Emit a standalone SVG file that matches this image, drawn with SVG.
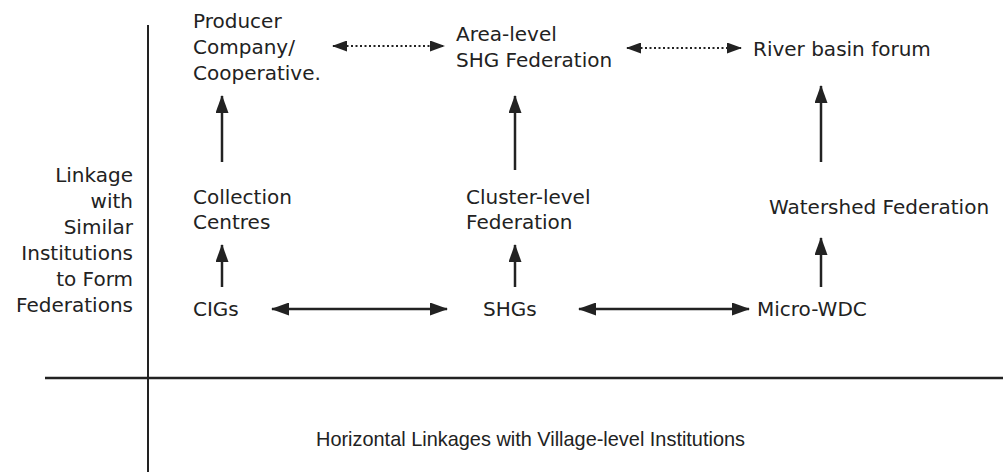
<svg xmlns="http://www.w3.org/2000/svg" width="1003" height="472" viewBox="0 0 1003 472">
  <style>
    .t { font-family: "DejaVu Sans", Verdana, sans-serif; font-size: 20px; fill: #222; }
    .ax { font-family: "Liberation Sans", Arial, sans-serif; font-size: 21px; fill: #222; }
    .solid { stroke: #222; stroke-width: 2.5; fill: none; }
    .dot { stroke: #222; stroke-width: 2; stroke-dasharray: 2 2.5; fill: none; }
    .axis { stroke: #222; fill: none; }
  </style>
  <defs>
    <marker id="head" viewBox="0 0 18 13" refX="17" refY="6.5" markerWidth="18" markerHeight="13" markerUnits="userSpaceOnUse" orient="auto-start-reverse">
      <path d="M0,0 L18,6.5 L0,13 z" fill="#222"/>
    </marker>
    <marker id="head-small" viewBox="0 0 15 11" refX="14" refY="5.5" markerWidth="15" markerHeight="11" markerUnits="userSpaceOnUse" orient="auto-start-reverse">
      <path d="M0,0 L15,5.5 L0,11 z" fill="#222"/>
    </marker>
  </defs>

  <!-- axes -->
  <g id="axes">
    <line class="axis" x1="148" y1="25" x2="148" y2="472" stroke-width="2"/>
    <line class="axis" x1="45" y1="378" x2="1003" y2="378" stroke-width="2.5"/>
  </g>

  <!-- axis captions -->
  <g id="axis-vertical-label">
    <text class="t" text-anchor="end" x="133" y="182">Linkage</text>
    <text class="t" text-anchor="end" x="133" y="208">with</text>
    <text class="t" text-anchor="end" x="133" y="234">Similar</text>
    <text class="t" text-anchor="end" x="133" y="260">Institutions</text>
    <text class="t" text-anchor="end" x="133" y="286">to Form</text>
    <text class="t" text-anchor="end" x="133" y="312">Federations</text>
  </g>
  <g id="axis-horizontal-label">
    <text class="ax" x="316" y="446" textLength="429" lengthAdjust="spacingAndGlyphs">Horizontal Linkages with Village-level Institutions</text>
  </g>

  <!-- nodes -->
  <g id="producer-company">
    <text class="t" x="193" y="28">Producer</text>
    <text class="t" x="193" y="54">Company/</text>
    <text class="t" x="193" y="80">Cooperative.</text>
  </g>
  <g id="area-federation">
    <text class="t" x="456" y="41">Area-level</text>
    <text class="t" x="456" y="67">SHG Federation</text>
  </g>
  <g id="river-basin-forum">
    <text class="t" x="753" y="56">River basin forum</text>
  </g>
  <g id="collection-centres">
    <text class="t" x="193" y="204">Collection</text>
    <text class="t" x="193" y="229">Centres</text>
  </g>
  <g id="cluster-federation">
    <text class="t" x="466" y="204">Cluster-level</text>
    <text class="t" x="466" y="229">Federation</text>
  </g>
  <g id="watershed-federation">
    <text class="t" x="769" y="214">Watershed Federation</text>
  </g>
  <g id="cigs">
    <text class="t" x="193" y="316">CIGs</text>
  </g>
  <g id="shgs">
    <text class="t" x="483" y="316">SHGs</text>
  </g>
  <g id="micro-wdc">
    <text class="t" x="757" y="316">Micro-WDC</text>
  </g>

  <!-- connectors -->
  <g id="connectors">
    <line class="dot" x1="333" y1="46" x2="444" y2="46" marker-start="url(#head-small)" marker-end="url(#head-small)"/>
    <line class="dot" x1="627" y1="48" x2="741" y2="48" marker-start="url(#head-small)" marker-end="url(#head-small)"/>

    <line class="solid" x1="222" y1="162" x2="222" y2="96" marker-end="url(#head)"/>
    <line class="solid" x1="515" y1="170" x2="515" y2="96" marker-end="url(#head)"/>
    <line class="solid" x1="821" y1="162" x2="821" y2="86" marker-end="url(#head)"/>

    <line class="solid" x1="222" y1="287" x2="222" y2="245" marker-end="url(#head)"/>
    <line class="solid" x1="515" y1="287" x2="515" y2="245" marker-end="url(#head)"/>
    <line class="solid" x1="821" y1="287" x2="821" y2="238" marker-end="url(#head)"/>

    <line class="solid" x1="272" y1="309" x2="447" y2="309" marker-start="url(#head)" marker-end="url(#head)"/>
    <line class="solid" x1="579" y1="309" x2="749" y2="309" marker-start="url(#head)" marker-end="url(#head)"/>
  </g>
</svg>
